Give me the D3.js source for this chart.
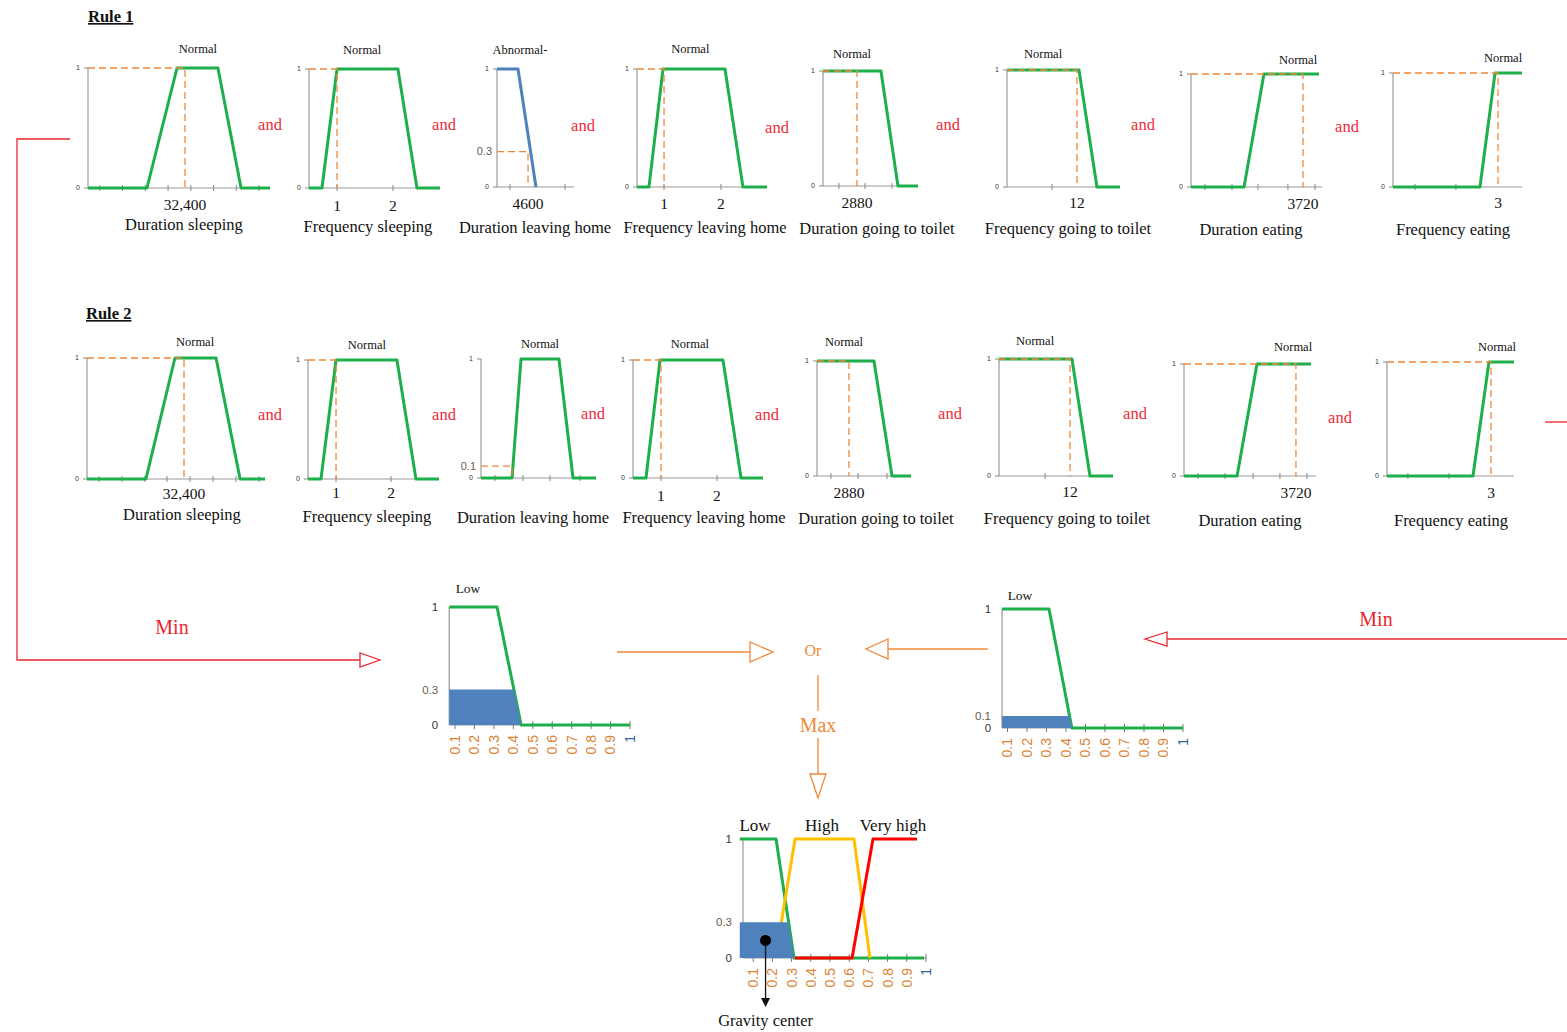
<!DOCTYPE html>
<html><head><meta charset="utf-8">
<script src="https://cdn.jsdelivr.net/npm/d3@7"></script>
<style>body{margin:0;background:#fff;} svg{display:block;}</style>
</head><body><svg id="c" width="1567" height="1032"></svg>
<script>
// ---------------- DATA ----------------
const inputNames = ["Duration sleeping","Frequency sleeping","Duration leaving home","Frequency leaving home","Duration going to toilet","Frequency going to toilet","Duration eating","Frequency eating"];
const rule1Terms = ["Normal","Normal","Abnormal-","Normal","Normal","Normal","Normal","Normal"];
const rule2Terms = ["Normal","Normal","Normal","Normal","Normal","Normal","Normal","Normal"];
const rule1ValueLabels = ["32,400","1","4600","1","2880","12","3720","3"];
const rule2ValueLabels = ["32,400","1","","1","2880","12","3720","3"];
// membership functions, x in relative input units (0..10), y membership degree
const rule1MF = [
  [[0,0],[3.24,0],[4.89,1],[7.14,1],[8.41,0],[10,0]],
  [[0,0],[0.99,0],[2.14,1],[6.79,1],[8.24,0],[10,0]],
  [[0,1],[2.73,1],[5.06,0]],
  [[0,0],[0.92,0],[2.0,1],[6.77,1],[8.15,0],[10,0]],
  [[0,1],[6.1,1],[7.89,0],[10,0]],
  [[0,1],[6.37,1],[7.96,0],[10,0]],
  [[0,0],[4.05,0],[5.57,1],[9.77,1]],
  [[0,0],[6.74,0],[7.91,1],[10,1]]
];
const rule2MF = [
  [[0,0],[3.31,0],[4.94,1],[7.25,1],[8.6,0],[10,0]],
  [[0,0],[0.99,0],[2.14,1],[6.79,1],[8.24,0],[10,0]],
  [[0,0],[2.7,0],[3.48,1],[6.78,1],[8.0,0],[10,0]],
  [[0,0],[1.0,0],[2.08,1],[6.92,1],[8.31,0],[10,0]],
  [[0,1],[6.06,1],[7.98,0],[10,0]],
  [[0,1],[6.4,1],[7.98,0],[10,0]],
  [[0,0],[4.02,0],[5.53,1],[9.62,1]],
  [[0,0],[6.77,0],[8.03,1],[10,1]]
];
const rule1MFColors = ["green","green","blue","green","green","green","green","green"];
const rule2MFColors = ["green","green","green","green","green","green","green","green"];
const rule1Inputs = [5.33,2.14,4.03,2.08,3.58,6.19,8.55,8.14];
const rule2Inputs = [5.45,2.14,2.7,2.15,3.4,6.23,8.48,8.19];
const rule1Degrees = [1,1,0.3,1,1,1,1,1];
const rule2Degrees = [1,1,0.1,1,1,1,1,1];
const rule1Ticks = [[0.65,1.9,3.15,4.4,5.65,6.9,8.15,9.4],[2.14,6.41],[1.69,8.83],[2.08,6.46],[1.68,4.42,7.26],[3.98],[1.07,3.13,5.11,7.4,9.47],[1.71,4.88]];
const rule2Ticks = [[0.67,1.96,3.25,4.49,5.79,7.08,8.37,9.66],[2.14,6.34],[1.22,3.65,6.0,8.61],[2.15,6.46],[1.49,4.36,7.45],[4.04],[1.06,3.11,5.23,7.27,9.32],[1.65,4.88]];
const rule1ExtraLabels = [[],[[6.41,"2"]],[],[[6.46,"2"]],[],[],[],[]];
const rule2ExtraLabels = [[],[[6.34,"2"]],[],[[6.46,"2"]],[],[],[],[]];
const rule1TermPos = [6.04,4.05,2.99,4.1,3.05,3.19,8.17,8.53];
const rule2TermPos = [6.07,4.5,5.13,4.38,2.87,3.16,8.26,8.66];

// output fuzzy sets (x in 0..1)
const outTickValues = [0.1,0.2,0.3,0.4,0.5,0.6,0.7,0.8,0.9,1];
const outTickLabels = ["0.1","0.2","0.3","0.4","0.5","0.6","0.7","0.8","0.9","1"];
const outLow1 = [[0.07,1],[0.316,1],[0.44,0],[1,0]];
const outLow2 = [[0.072,1],[0.313,1],[0.43,0],[1,0]];
const finalLow = [[0.03,1],[0.219,1],[0.3125,0],[0.99,0]];
const finalHigh = [[0.216,0],[0.318,1],[0.625,1],[0.708,0]];
const finalVeryHigh = [[0.318,0],[0.615,0],[0.724,1],[0.953,1]];

// ---------------- LAYOUT ----------------
// [x0, x1, yTop, yBase, titleX, titleY, valueLabelY, termY]
const row1Layout = [
  [88,270,68,188,184,224,205,49],[309,440,69,188,368,226,206,50],[497,574,69,187,535,227,204,50],[637,767,69,187,705,227,204,49],
  [823,918,71,186,877,228,203,54],[1007,1120,70,187,1068,228,203,54],[1191,1322,74,187,1251,229,204,60],[1393,1522,73,187,1453,229,203,58]
];
const row2Layout = [
  [87,265,358,479,182,514,494,342],[308,439,360,479,367,516,493,345],[481,596,359,478,533,517,493,344],[633,763,360,478,704,517,496,344],
  [817,911,361,476,876,518,493,342],[999,1113,359,476,1067,518,492,341],[1184,1316,364,476,1250,520,493,347],[1387,1514,362,476,1451,520,493,347]
];
const and1Pos = [[270,124],[444,124],[583,125],[777,127],[948,124],[1143,124],[1347,126]];
const and2Pos = [[270,414],[444,414],[593,413],[767,414],[950,413],[1135,413],[1340,417]];

const SERIF = "'Liberation Serif','Times New Roman',serif";
const SANS = "'Liberation Sans',Arial,sans-serif";
const GREEN = "#1DAF4B", BLUE = "#4F81BD", ORANGE = "#F0883A", RED = "#E8262E", AND = "#EE2B3B", YELLOW = "#FFC000", VRED = "#FF0000";
const colorOf = {green: GREEN, blue: BLUE};

const svg = d3.select("#c");

function drawPanel(L, mf, mfColor, input, degree, ticks, valueLabel, extra, term, termPos, name) {
  const [x0,x1,yT,yB,titleX,titleY,labelY,termY] = L;
  const x = d3.scaleLinear().domain([0,10]).range([x0,x1]);
  const y = d3.scaleLinear().domain([0,1]).range([yB,yT]);
  const g = svg.append("g");
  g.append("line").attr("x1",x0).attr("y1",y(1)).attr("x2",x0).attr("y2",y(0)).attr("stroke","#999").attr("stroke-width",1.2);
  g.append("line").attr("x1",x0).attr("y1",y(0)).attr("x2",x1).attr("y2",y(0)).attr("stroke","#999").attr("stroke-width",1.2);
  ticks.forEach(t => g.append("line").attr("x1",x(t)).attr("x2",x(t)).attr("y1",y(0)-3).attr("y2",y(0)+3).attr("stroke","#888"));
  [0,1].forEach(v => g.append("line").attr("x1",x0-4).attr("x2",x0).attr("y1",y(v)).attr("y2",y(v)).attr("stroke","#888"));
  [[1,"1"],[0,"0"]].forEach(([v,t]) => g.append("text").attr("x",x0-10).attr("y",y(v)).attr("dy","0.35em")
     .attr("text-anchor","middle").attr("font-family",SANS).attr("font-size",7).attr("fill","#333").text(t));
  g.append("path").attr("d", d3.line()(mf.map(p => [x(p[0]), y(p[1])])))
    .attr("fill","none").attr("stroke",colorOf[mfColor]).attr("stroke-width",3).attr("stroke-linejoin","round");
  g.append("path").attr("d", `M${x0},${y(degree)}H${x(input)}V${y(0)}`)
    .attr("fill","none").attr("stroke",ORANGE).attr("stroke-width",1.3).attr("stroke-dasharray","7,4");
  if (degree < 1) {
    g.append("text").attr("x",x0-5).attr("y",y(degree)).attr("dy","0.35em").attr("text-anchor","end")
      .attr("font-family",SANS).attr("font-size",11).attr("fill","#6b5a4a").text(String(degree));
  }
  if (valueLabel) g.append("text").attr("x",x(input)).attr("y",labelY).attr("dy","0.35em").attr("text-anchor","middle")
      .attr("font-family",SERIF).attr("font-size",15.5).attr("fill","#111").text(valueLabel);
  extra.forEach(([v,t]) => g.append("text").attr("x",x(v)).attr("y",labelY).attr("dy","0.35em").attr("text-anchor","middle")
      .attr("font-family",SERIF).attr("font-size",15.5).attr("fill","#111").text(t));
  g.append("text").attr("x",titleX).attr("y",titleY).attr("dy","0.35em").attr("text-anchor","middle")
      .attr("font-family",SERIF).attr("font-size",16.5).attr("fill","#111").text(name);
  g.append("text").attr("x",x(termPos)).attr("y",termY).attr("dy","0.35em").attr("text-anchor","middle")
      .attr("font-family",SERIF).attr("font-size",12.5).attr("fill","#111").text(term);
}

for (let i = 0; i < 8; i++) {
  drawPanel(row1Layout[i], rule1MF[i], rule1MFColors[i], rule1Inputs[i], rule1Degrees[i], rule1Ticks[i], rule1ValueLabels[i], rule1ExtraLabels[i], rule1Terms[i], rule1TermPos[i], inputNames[i]);
  drawPanel(row2Layout[i], rule2MF[i], rule2MFColors[i], rule2Inputs[i], rule2Degrees[i], rule2Ticks[i], rule2ValueLabels[i], rule2ExtraLabels[i], rule2Terms[i], rule2TermPos[i], inputNames[i]);
}
and1Pos.concat(and2Pos).forEach(([ax,ay]) => svg.append("text").attr("x",ax).attr("y",ay).attr("dy","0.35em").attr("text-anchor","middle")
  .attr("font-family",SERIF).attr("font-size",16.5).attr("fill",AND).text("and"));

[["Rule 1",88,22],["Rule 2",86,319]].forEach(([t,rx,ry]) => svg.append("text").attr("x",rx).attr("y",ry)
  .attr("font-family",SERIF).attr("font-size",16.5).attr("font-weight","bold").attr("text-decoration","underline").attr("fill","#111").text(t));

// firing strengths (min of antecedent degrees)
const fire1 = d3.min(rule1Degrees), fire2 = d3.min(rule2Degrees);
const aggLevel = d3.max([fire1, fire2]);

function clipMF(pts, lv) {
  const out = [];
  for (let i = 0; i < pts.length; i++) {
    const [xa, ya] = pts[i];
    if (i > 0) {
      const [xp, yp] = pts[i-1];
      if ((yp - lv) * (ya - lv) < 0) { const t = (lv - yp) / (ya - yp); out.push([xp + t*(xa - xp), lv]); }
    }
    out.push([xa, Math.min(ya, lv)]);
  }
  return [[pts[0][0], 0], ...out, [pts[pts.length-1][0], 0]];
}

function drawOut(O, sets, fillPoly, levelLabel, names) {
  const x = d3.scaleLinear().domain([0,1]).range(O.r);
  const y = d3.scaleLinear().domain([0,1]).range([O.yB, O.yT]);
  const g = svg.append("g");
  g.append("line").attr("x1",x(O.start)).attr("x2",x(O.start)).attr("y1",y(1)).attr("y2",y(0)).attr("stroke","#999").attr("stroke-width",1.2);
  g.append("line").attr("x1",x(O.start)).attr("x2",x(1)).attr("y1",y(0)).attr("y2",y(0)).attr("stroke","#999").attr("stroke-width",1.2);
  outTickValues.forEach(t => g.append("line").attr("x1",x(t)).attr("x2",x(t)).attr("y1",y(0)-4).attr("y2",y(0)+4).attr("stroke","#777"));
  sets.forEach(([pts,col]) => g.append("path").attr("d", d3.line()(pts.map(p => [x(p[0]), y(p[1])])))
    .attr("fill","none").attr("stroke",col).attr("stroke-width",3).attr("stroke-linejoin","round"));
  g.append("path").attr("d", d3.line()(fillPoly.map(p => [x(p[0]), y(p[1])])) + "Z").attr("fill",BLUE).attr("stroke","none");
  [[1,"1","#333"],[levelLabel,String(levelLabel),"#6b5a4a"],[0,"0","#333"]].forEach(([v,t,c]) =>
    g.append("text").attr("x",x(O.start)-11).attr("y",y(v)).attr("dy","0.35em").attr("text-anchor","end")
      .attr("font-family",SANS).attr("font-size",11.5).attr("fill",c).text(t));
  outTickValues.forEach((t,i) => g.append("text").attr("transform",`translate(${x(t)},${y(0)+10}) rotate(-90)`)
    .attr("dy","0.35em").attr("text-anchor","end").attr("font-family",SANS).attr("font-size",14)
    .attr("fill", i === outTickValues.length-1 ? "#3A5F9A" : "#DC8436").text(outTickLabels[i]));
  names.forEach(([t,nx,ny,fs]) => g.append("text").attr("x",nx).attr("y",ny).attr("dy","0.35em").attr("text-anchor","middle")
    .attr("font-family",SERIF).attr("font-size",fs).attr("fill","#111").text(t));
  return {x, y};
}

const out1 = {r:[435.6,630], yT:607, yB:725, start:0.07};
const out2 = {r:[988,1183], yT:609, yB:728, start:0.072};
const outF = {r:[734,926], yT:839, yB:958, start:0.047};

drawOut(out1, [[outLow1, GREEN]], clipMF(outLow1, fire1), fire1, [["Low",468,588,13.5]]);
drawOut(out2, [[outLow2, GREEN]], clipMF(outLow2, fire2), fire2, [["Low",1020,595,13.5]]);
const aggPoly = clipMF(finalLow, aggLevel);
const F = drawOut(outF, [[finalLow, GREEN],[finalHigh, YELLOW],[finalVeryHigh, VRED]], aggPoly, aggLevel,
  [["Low",755,825,17],["High",822,825,17],["Very high",893,825,17]]);

// gravity center
const cen = d3.polygonCentroid(aggPoly);
const gx = F.x(cen[0]), gy = F.y(cen[1]);
svg.append("line").attr("x1",gx).attr("x2",gx).attr("y1",gy).attr("y2",999).attr("stroke","#111").attr("stroke-width",1.3);
svg.append("path").attr("d",`M${gx-4.5},998L${gx+4.5},998L${gx},1007Z`).attr("fill","#111");
svg.append("circle").attr("cx",gx).attr("cy",gy).attr("r",5.5).attr("fill","#000");
svg.append("text").attr("x",gx).attr("y",1020).attr("dy","0.35em").attr("text-anchor","middle")
  .attr("font-family",SERIF).attr("font-size",16.5).attr("fill","#111").text("Gravity center");

// connectors
const conn = svg.append("g").attr("fill","none").attr("stroke-width",1.3);
conn.append("path").attr("d","M70,139H17V660H360").attr("stroke",RED);
conn.append("path").attr("d","M360,653L380,660L360,667Z").attr("stroke",RED).attr("fill","#fff");
conn.append("path").attr("d","M1567,639H1167").attr("stroke",RED);
conn.append("path").attr("d","M1167,632L1145,639L1167,646Z").attr("stroke",RED).attr("fill","#fff");
conn.append("path").attr("d","M1545,422H1567").attr("stroke",RED);
conn.append("path").attr("d","M617,652H750").attr("stroke",ORANGE);
conn.append("path").attr("d","M750,642L773,652L750,662Z").attr("stroke",ORANGE).attr("fill","#fff");
conn.append("path").attr("d","M988,649H888").attr("stroke",ORANGE);
conn.append("path").attr("d","M888,639L866,649L888,659Z").attr("stroke",ORANGE).attr("fill","#fff");
conn.append("path").attr("d","M818,675V711M818,738V774").attr("stroke",ORANGE);
conn.append("path").attr("d","M810,774L818,798L826,774Z").attr("stroke",ORANGE).attr("fill","#fff");

[["Min",172,627,20,RED],["Min",1376,619,20,RED],["Or",813,650,16,ORANGE],["Max",818,725,20,ORANGE]].forEach(([t,tx,ty,fs,c]) =>
  svg.append("text").attr("x",tx).attr("y",ty).attr("dy","0.35em").attr("text-anchor","middle")
    .attr("font-family",SERIF).attr("font-size",fs).attr("fill",c).text(t));
</script></body></html>
